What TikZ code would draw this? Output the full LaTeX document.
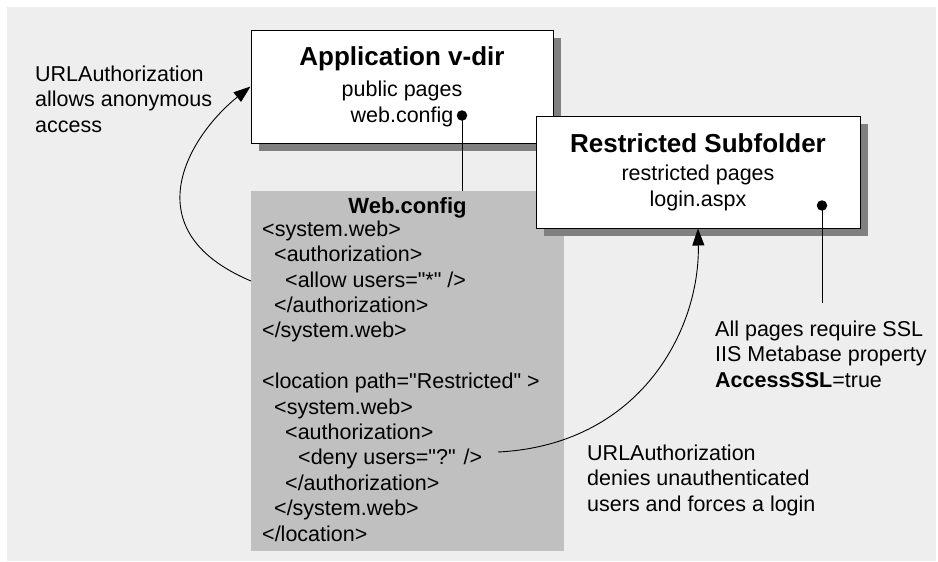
\documentclass[tikz,border=0pt]{standalone}
\usepackage{fontspec}
\setmainfont{Liberation Sans}
\usetikzlibrary{arrows.meta,shadows}
\definecolor{bggray}{HTML}{EEEEEE}
\definecolor{cfggray}{HTML}{C0C0C0}
\definecolor{shadowgray}{HTML}{808080}
\newcommand{\titlefont}{\bfseries\fontsize{26}{31}\selectfont}
\newcommand{\ind}[1]{\hspace*{#1pt}}
\newcommand{\q}{\textquotedbl}

\begin{document}
\begin{tikzpicture}[x=1pt,y=-1pt,
  every node/.style={font=\fontsize{21.5}{25.4}\selectfont, inner sep=0pt},
  folder/.style={draw, fill=white, line width=1pt, align=center,
    drop shadow={shadow xshift=7.5pt, shadow yshift=-8pt, fill=shadowgray, opacity=1}},
  cfgbox/.style={fill=cfggray, minimum width=313pt, minimum height=360pt},
  note/.style={anchor=base west, align=left},
  dot/.style={circle, fill=black, minimum size=10.5pt},
  wire/.style={line width=0.9pt},
  arrow/.style={line width=0.9pt, -{Triangle[length=17pt,width=12pt]}}]
\useasboundingbox (0,0) rectangle (938,562);
\fill[bggray] (7,7) rectangle (936,561);

% folders and the config file
\node[folder, minimum width=302pt, minimum height=113pt] (app) at (402,86.5)
  {{\titlefont Application v-dir}\\[6pt] public pages\\ web.config};
\node[cfgbox] (cfg) at (407.5,371) {};
\node[font=\bfseries\fontsize{22}{25.4}\selectfont, anchor=base] (cfgtitle) at (407.5,213) {Web.config};
% base of a multi-line node is its last line
\node[note] (cfgtext) at (262,541) {<system.web>\\
  \ind{12}<authorization>\\
  \ind{23}<allow users=\q*\q{} />\\
  \ind{12}</authorization>\\
  </system.web>\\
  \mbox{}\\
  <location path=\q Restricted\q{} >\\
  \ind{12}<system.web>\\
  \ind{23}<authorization>\\
  \ind{36}<deny users=\q?\q{} />\\
  \ind{23}</authorization>\\
  \ind{12}</system.web>\\
  </location>};
\node[folder, minimum width=324pt, minimum height=112pt] (sub) at (698,172)
  {{\titlefont Restricted Subfolder}\\[3pt] restricted pages\\ login.aspx};

% dots and lines
\node[dot] (appdot) at (462,115.5) {};
\node[dot] (subdot) at (822,205.5) {};
\coordinate (sslend) at (822,303);
\draw[wire] (appdot.center) -- (appdot.center |- cfg.north);
\draw[wire] (subdot.center) -- (sslend);

% arrows
\coordinate (allowstart) at (251,281);
\coordinate (denystart) at (498,452);
\draw[arrow] (allowstart) .. controls (130,230) and (190,135) .. (app.west);
\draw[arrow] (denystart) .. controls (640,445) and (700,330) .. (sub.south);

% notes
\node[note] (allownote) at (35,132) {URLAuthorization\\allows anonymous\\access};
\node[note] (sslnote) at (715,387) {All pages require SSL\\IIS Metabase property\\\textbf{AccessSSL}=true};
\node[note] (denynote) at (587,511) {URLAuthorization\\denies unauthenticated\\users and forces a login};
\end{tikzpicture}
\end{document}
